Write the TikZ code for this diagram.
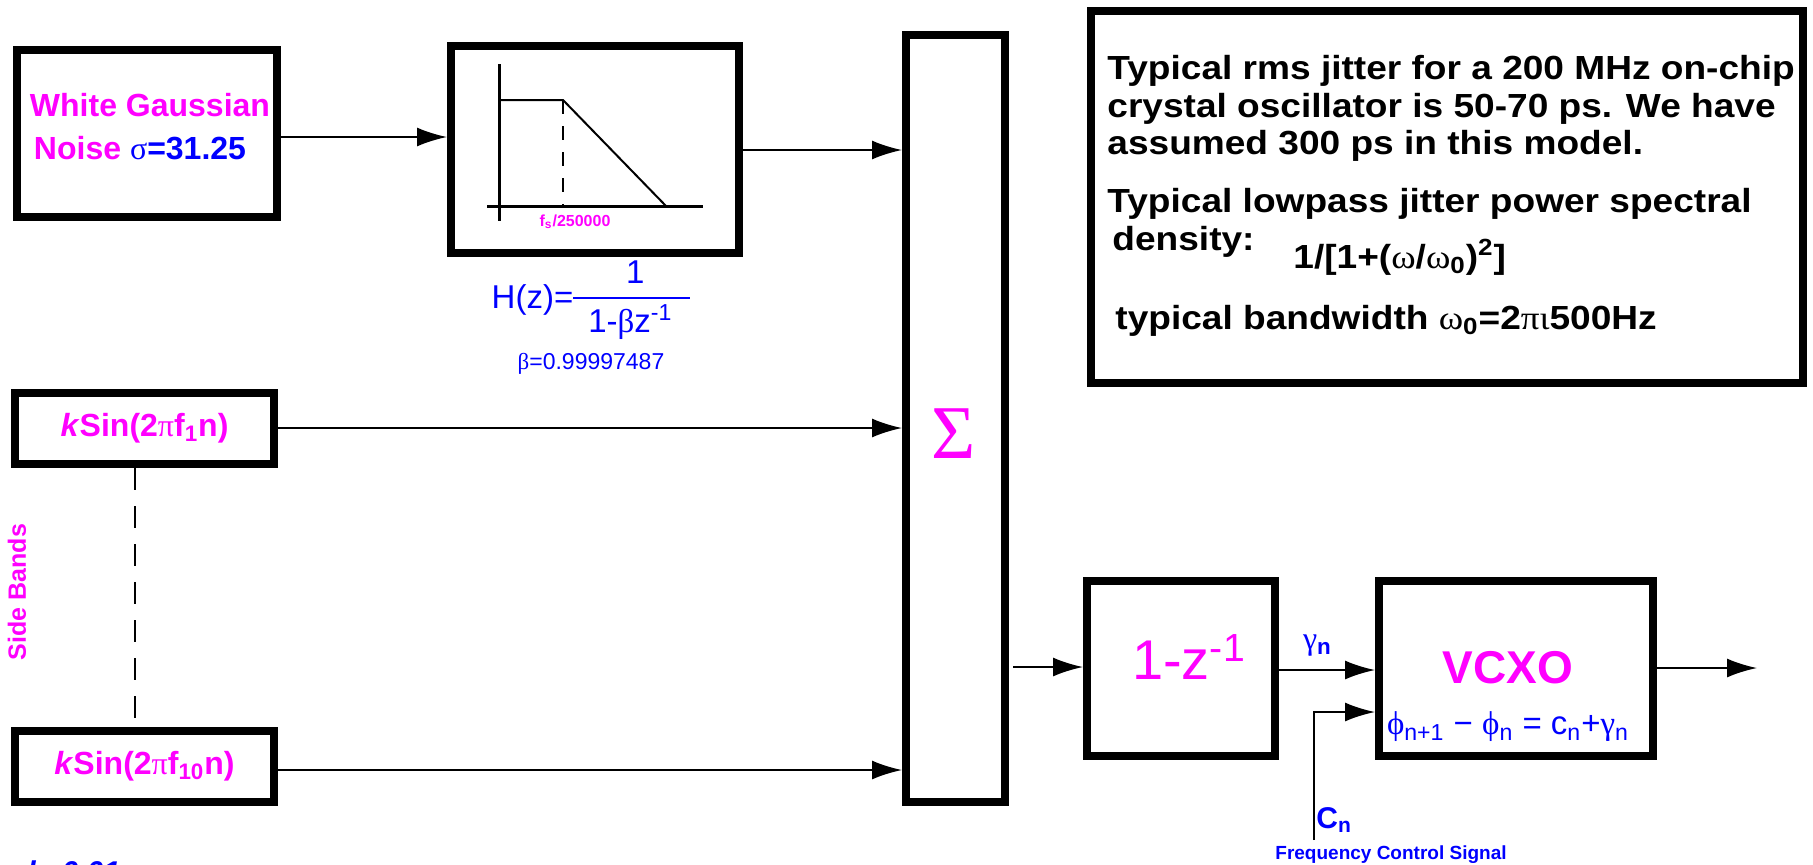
\documentclass[tikz,border=0pt]{standalone}
\usepackage{fontspec}
\setmainfont{Liberation Sans}
\newfontfamily\grk{Liberation Serif}
\newfontfamily\notefont[FakeStretch=1.11]{Liberation Sans}
\newfontfamily\notegrk[FakeStretch=1.11]{Liberation Serif}
\usetikzlibrary{arrows.meta}
\definecolor{cmag}{RGB}{255,0,255}
\definecolor{cblu}{RGB}{0,0,255}
\newcommand{\fsz}[2]{\fontsize{#1}{#2}\selectfont}
\tikzset{
  jit/.style={x=0.5pt,y=-0.5pt},
  blkbox/.style={draw,line width=4pt,inner sep=0pt},
  arr/.style={line width=1pt,-{Latex[length=15pt,width=9.5pt]}},
  sband/.style={line width=0.8pt,dash pattern=on 11pt off 8pt},
  notetxt/.style={inner sep=0pt,align=left,font=\notefont\bfseries\fsz{16.7}{18.75}},
}

\begin{document}
\begin{tikzpicture}[jit]
  \useasboundingbox (0,0) rectangle (1813,864);
  % input blocks
  \node[blkbox,minimum width=130pt,minimum height=83.5pt] (noise) at (147,133.5) {};
  \node[align=left,font=\bfseries\fsz{16}{21.5},text=cmag,inner sep=0pt] (noisetxt) at (150,126.5)
    {White Gaussian\\\hspace{2pt}Noise \textcolor{cblu}{{\grk\mdseries σ}=31.25}};
  \node[blkbox,minimum width=144pt,minimum height=103.5pt] (filter) at (595,149.5) {};
  \node[blkbox,minimum width=129.5pt,minimum height=35.5pt,font=\bfseries\fsz{16}{19},text=cmag]
    (sine1) at (144.5,428.5) {\textit{k}Sin(2{\grk\mdseries π}f\textsubscript{1}n)};
  \node[blkbox,minimum width=129.5pt,minimum height=35.5pt,font=\bfseries\fsz{16}{19},text=cmag]
    (sine10) at (144.5,766.5) {\textit{k}Sin(2{\grk\mdseries π}f\textsubscript{10}n)};
  \node[blkbox,minimum width=49.5pt,minimum height=383.5pt] (sigma) at (955.5,418.5) {};
  \node[cmag,font=\grk\fsz{38}{40}] (sigsym) at (954,434) {Σ};
  % note box
  \node[blkbox,minimum width=356pt,minimum height=186pt] (note) at (1447,197) {};
  \node[notetxt,anchor=north west] (par1) at (1107,55)
    {Typical rms jitter for a 200 MHz on-chip\\crystal oscillator is 50-70 ps. We have\\assumed 300 ps in this model.};
  \node[notetxt,anchor=north west] (par2) at (1107,188)
    {Typical lowpass jitter power spectral\\\hspace{2.5pt}density:};
  \node[notetxt,anchor=base west] (psd) at (1293,268)
    {1/[1+({\notegrk\mdseries ω}/{\notegrk\mdseries ω}\textsubscript{0})\textsuperscript{2}]};
  \node[notetxt,anchor=base west] (bw) at (1115,329)
    {typical bandwidth {\notegrk\mdseries ω}\textsubscript{0}=2{\notegrk\mdseries πι}500Hz};
  % output blocks
  \node[blkbox,minimum width=94pt,minimum height=87.5pt] (diff) at (1181,668.5) {};
  \node[cmag,font=\fsz{28}{30}] (difftxt) at (1189,657) {1-z\textsuperscript{-1}};
  \node[blkbox,minimum width=137pt,minimum height=87.5pt] (vcxo) at (1516,668.5) {};
  \node[cmag,font=\bfseries\fsz{23}{26}] (vcxotxt) at (1508,668) {VCXO};
  \node[cblu,font=\fsz{16.5}{18}] (phase) at (1508,727)
    {{\grk ϕ}\textsubscript{n+1} − {\grk ϕ}\textsubscript{n} = c\textsubscript{n}+{\grk γ}\textsubscript{n}};
  % lowpass sketch
  \draw[line width=1.5pt] (499,64) -- (499,221);
  \draw[line width=1.5pt] (487,206) -- (703,206);
  \draw[line width=1pt] (499,100) -- (563,100) -- (666,206);
  \draw[line width=0.8pt,dash pattern=on 7pt off 6pt] (563,100) -- (563,206);
  \node[cmag,font=\bfseries\fsz{8}{9}] (fcut) at (575,222) {f\textsubscript{s}/250000};
  % filter labels
  \node[cblu,font=\fsz{16.5}{20},inner sep=0pt] (hz) at (591,300)
    {H(z)=\setlength{\arrayrulewidth}{0.8pt}\begin{tabular}{@{\hspace{3.5pt}}c@{}}\makebox[55pt]{1}\\[1pt]\hline
     \rule{0pt}{17pt}\makebox[55pt][l]{\hspace{4pt}1-{\grk β}z\textsuperscript{-1}}\end{tabular}};
  \node[cblu,font=\fsz{11.5}{14}] (beta) at (591,364) {{\grk β}=0.99997487};
  % side bands
  \draw[sband] (sine1.south -| 135,0) -- (sine10.north -| 135,0);
  \node[cmag,font=\bfseries\fsz{12.5}{14},rotate=90] (sbl) at (17,592) {Side Bands};
  % connectors
  \draw[arr] (noise.east |- 0,137) -- (filter.west |- 0,137);
  \draw[arr] (filter.east |- 0,150) -- (sigma.west |- 0,150);
  \draw[arr] (sine1.east |- 0,428) -- (sigma.west |- 0,428);
  \draw[arr] (sine10.east |- 0,770) -- (sigma.west |- 0,770);
  \draw[arr] ([xshift=2pt]sigma.east |- 0,667) -- (diff.west |- 0,667);
  \draw[arr] (diff.east |- 0,670) -- (vcxo.west |- 0,670)
    node[pos=0.4,above=3pt,cblu,font=\fsz{16}{18}] {{\grk γ}\textsubscript{\bfseries n}};
  \coordinate (cin) at (1314,840);
  \draw[arr] (cin) |- (vcxo.west |- 0,712);
  \coordinate (vout) at (1757,668);
  \draw[arr] (vcxo.east |- 0,668) -- (vout);
  \node[cblu,font=\bfseries\fsz{15}{17},anchor=west,inner sep=0pt] (cn) at (1316,820) {C\textsubscript{n}};
  \node[cblu,font=\bfseries\fsz{9.5}{11}] (fcs) at (1391,855) {Frequency Control Signal};
  \node[cblu,font=\bfseries\fsz{15}{17},anchor=north west,inner sep=0pt] (kval) at (27,860) {\textit{k=0.01}};
\end{tikzpicture}
\end{document}
